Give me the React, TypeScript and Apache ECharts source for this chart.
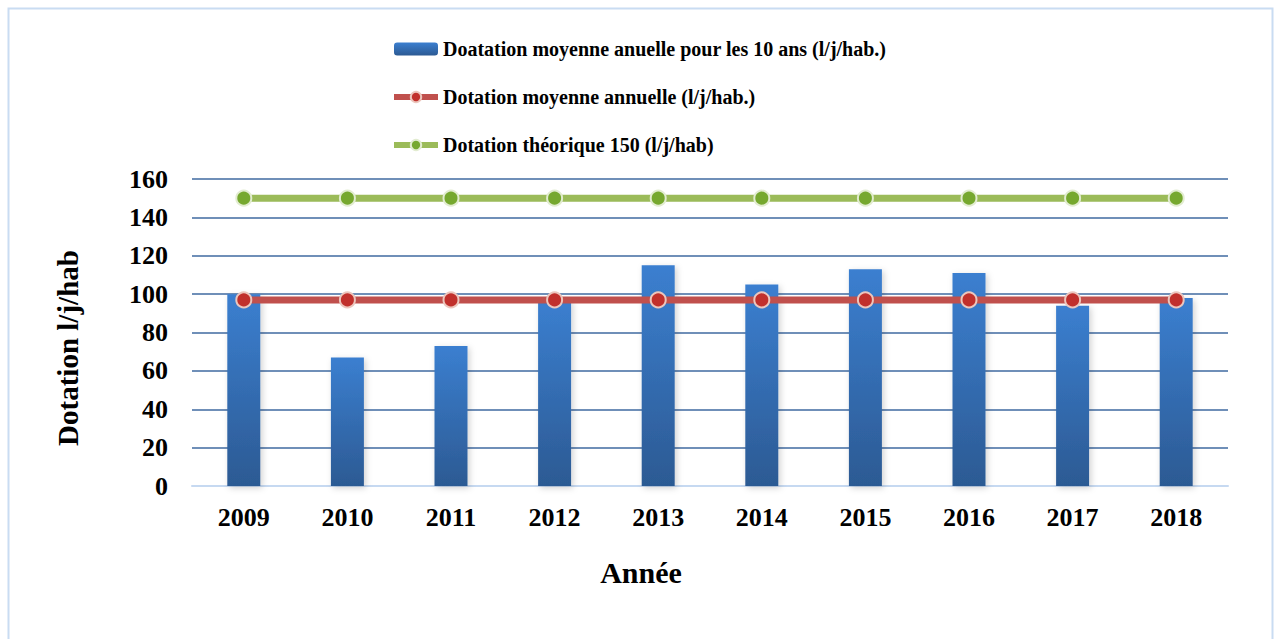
import React, { useEffect, useRef } from "react";
import * as echarts from "echarts";

const years = ["2009", "2010", "2011", "2012", "2013", "2014", "2015", "2016", "2017", "2018"];
const dotationAnnuelle10 = [100, 67, 73, 97, 115, 105, 113, 111, 94, 98];
const dotationMoyenne = [97, 97, 97, 97, 97, 97, 97, 97, 97, 97];
const dotationTheorique = [150, 150, 150, 150, 150, 150, 150, 150, 150, 150];

const seriesNames = [
  "Doatation moyenne anuelle pour les 10 ans (l/j/hab.)",
  "Dotation moyenne annuelle (l/j/hab.)",
  "Dotation théorique 150 (l/j/hab)",
];
const yAxisTitle = "Dotation l/j/hab";
const xAxisTitle = "Année";

const FONT = '"Liberation Serif", "Times New Roman", serif';

export default function App() {
  const ref = useRef<HTMLDivElement>(null);
  useEffect(() => {
    if (!ref.current) return;
    const chart = echarts.init(ref.current, null, { renderer: "svg" });
    chart.setOption({
      animation: false,
      backgroundColor: "#ffffff",
      graphic: [
        {
          type: "rect",
          shape: { x: 8.5, y: 8.5, width: 1264, height: 640 },
          style: { fill: "none", stroke: "#c9dcf2", lineWidth: 2 },
          silent: true,
          z: -1,
        },
        {
          type: "text",
          x: 68,
          y: 348,
          rotation: Math.PI / 2,
          style: {
            text: yAxisTitle,
            fontFamily: FONT,
            fontWeight: "bold",
            fontSize: 29,
            fill: "#000",
            align: "center",
            verticalAlign: "middle",
          },
        },
        {
          type: "text",
          x: 641,
          y: 572,
          style: {
            text: xAxisTitle,
            fontFamily: FONT,
            fontWeight: "bold",
            fontSize: 30,
            fill: "#000",
            align: "center",
            verticalAlign: "middle",
          },
        },
      ],
      legend: {
        orient: "vertical",
        left: 391,
        top: 39,
        padding: 0,
        itemGap: 28,
        itemWidth: 44,
        itemHeight: 13,
        textStyle: { fontFamily: FONT, fontWeight: "bold", fontSize: 20, color: "#000" },
        data: [
          { name: seriesNames[0] },
          { name: seriesNames[1], lineStyle: { width: 6 } },
          { name: seriesNames[2], lineStyle: { width: 6 } },
        ],
      },
      grid: { left: 192, right: 49, top: 179, bottom: 153, containLabel: false },
      xAxis: {
        type: "category",
        data: years,
        axisTick: { show: false },
        axisLine: { lineStyle: { color: "#c6d9f1", width: 2 } },
        axisLabel: { fontFamily: FONT, fontWeight: "bold", fontSize: 26, color: "#000", margin: 18 },
      },
      yAxis: {
        type: "value",
        min: 0,
        max: 160,
        interval: 20,
        axisLine: { show: false },
        axisTick: { show: false },
        axisLabel: { fontFamily: FONT, fontWeight: "bold", fontSize: 26, color: "#000", margin: 24 },
        splitLine: { show: true, showMinLine: false, lineStyle: { color: "#3f6aa0", width: 1.5 } },
      },
      series: [
        {
          name: seriesNames[0],
          type: "bar",
          data: dotationAnnuelle10,
          barWidth: 33,
          itemStyle: {
            color: new echarts.graphic.LinearGradient(0, 0, 0, 1, [
              { offset: 0, color: "#3b7fd0" },
              { offset: 1, color: "#2c5a93" },
            ]),
            shadowColor: "rgba(0,0,0,0.18)",
            shadowBlur: 6,
            shadowOffsetX: 2,
            shadowOffsetY: 2,
          },
          z: 2,
        },
        {
          name: seriesNames[1],
          type: "line",
          data: dotationMoyenne,
          symbol: "circle",
          symbolSize: 15,
          lineStyle: { color: "#c0504d", width: 7 },
          itemStyle: { color: "#c1302c", borderColor: "#ecc6bd", borderWidth: 2 },
          z: 3,
        },
        {
          name: seriesNames[2],
          type: "line",
          data: dotationTheorique,
          symbol: "circle",
          symbolSize: 15,
          lineStyle: { color: "#9bbb59", width: 7 },
          itemStyle: { color: "#76a82f", borderColor: "#e2ecd0", borderWidth: 2 },
          z: 3,
        },
      ],
    });
    return () => chart.dispose();
  }, []);
  return (
    <div
      ref={ref}
      style={{ position: "fixed", left: 0, top: 0, width: 1277, height: 639 }}
    />
  );
}
